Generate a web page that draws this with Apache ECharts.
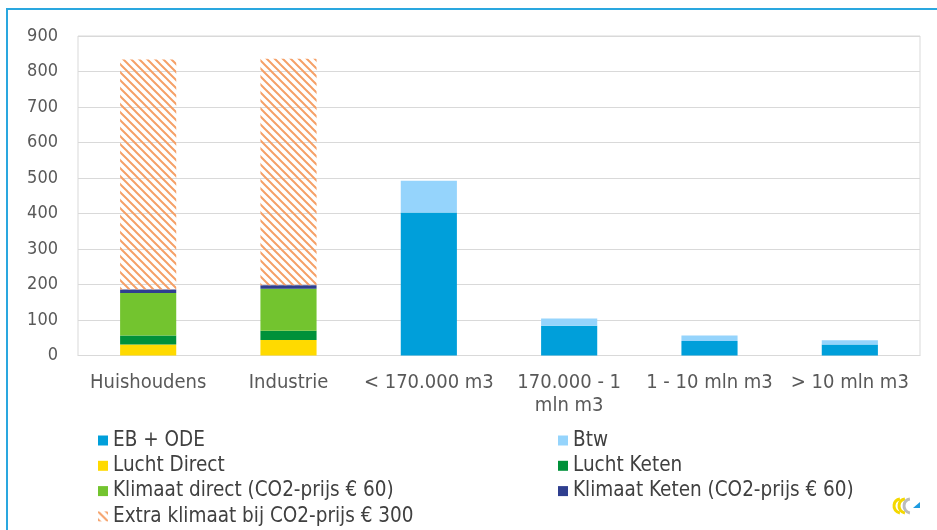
<!DOCTYPE html>
<html>
<head>
<meta charset="utf-8">
<script src="https://cdn.jsdelivr.net/npm/echarts@6/dist/echarts.min.js"></script>
<style>html,body{margin:0;padding:0;background:#fff}#c{width:937px;height:530px}</style>
</head>
<body>
<div id="c"></div>
<script>
const categories = ['Huishoudens', 'Industrie', '< 170.000 m3', '170.000 - 1\nmln m3', '1 - 10 mln m3', '> 10 mln m3'];
const ebOde        = [0, 0, 403, 84, 41, 31];
const btw          = [0, 0, 89, 20, 15, 12];
const luchtDirect  = [31, 44, 0, 0, 0, 0];
const luchtKeten   = [25, 26, 0, 0, 0, 0];
const klimaatDirect= [120, 118, 0, 0, 0, 0];
const klimaatKeten = [10, 10, 0, 0, 0, 0];
const extraKlimaat = [648, 638, 0, 0, 0, 0];
const yTicks = [0, 100, 200, 300, 400, 500, 600, 700, 800, 900];

const legendCol1 = ['EB + ODE', 'Lucht Direct', 'Klimaat direct (CO2-prijs € 60)', 'Extra klimaat bij CO2-prijs € 300'];
const legendCol2 = ['Btw', 'Lucht Keten', 'Klimaat Keten (CO2-prijs € 60)'];

const FONT = '"DejaVu Sans Condensed", "DejaVu Sans", sans-serif';

// hatch pattern: diagonal "\" stripes
const P = 8;
const pc = document.createElement('canvas');
pc.width = P; pc.height = P;
const g = pc.getContext('2d');
g.strokeStyle = '#F5A067';
g.lineWidth = 2;
g.lineCap = 'square';
g.beginPath();
for (let k = -2; k <= 2; k++) {
  g.moveTo(k * P - P, -P); g.lineTo(k * P + 2 * P, 2 * P);
}
g.stroke();

const chart = echarts.init(document.getElementById('c'), null, {renderer: 'canvas'});

function s(name, data, color) {
  return {name, type: 'bar', stack: 'a', data, barWidth: '40%', itemStyle: {color}, emphasis: {disabled: true}};
}

const legends = [];
legendCol1.forEach((n, i) => legends.push({name: n, left: 98, top: 430 + i * 25.3}));
legendCol2.forEach((n, i) => legends.push({name: n, left: 558, top: 430 + i * 25.3}));

chart.setOption({
  animation: false,
  grid: {left: 78, right: 17, top: 36, bottom: 174.5, show: true, borderColor: '#D9D9D9', borderWidth: 1},
  xAxis: {
    type: 'category', data: categories,
    axisLine: {lineStyle: {color: '#D9D9D9'}}, axisTick: {show: false},
    axisLabel: {color: '#595959', fontSize: 20, fontFamily: FONT, margin: 16, lineHeight: 23, interval: 0}
  },
  yAxis: {
    type: 'value', min: yTicks[0], max: yTicks[yTicks.length - 1], interval: 100,
    axisLine: {show: false}, axisTick: {show: false},
    splitLine: {lineStyle: {color: '#D9D9D9'}},
    axisLabel: {color: '#595959', fontSize: 18, fontFamily: FONT, margin: 20}
  },
  legend: legends.map(l => ({
    left: l.left, top: l.top, padding: 0, orient: 'vertical',
    itemWidth: 10, itemHeight: 10, icon: 'rect',
    textStyle: {color: '#404040', fontSize: 20.5, fontFamily: FONT, lineHeight: 20},
    data: [l.name], selectedMode: false
  })),
  graphic: [
    {type: 'rect', shape: {x: 7, y: 9, width: 1000, height: 1000}, style: {fill: 'none', stroke: '#2AA7DF', lineWidth: 2}, silent: true},
    {type: 'arc', shape: {cx: 901, cy: 506, r: 7, startAngle: Math.PI*0.55, endAngle: Math.PI*1.45}, style: {stroke: '#F4D800', fill: 'none', lineWidth: 3}},
    {type: 'arc', shape: {cx: 906, cy: 506, r: 7, startAngle: Math.PI*0.55, endAngle: Math.PI*1.45}, style: {stroke: '#F4D800', fill: 'none', lineWidth: 3}},
    {type: 'arc', shape: {cx: 911, cy: 506, r: 7, startAngle: Math.PI*0.55, endAngle: Math.PI*1.45}, style: {stroke: '#BBBBBB', fill: 'none', lineWidth: 3}},
    {type: 'polygon', shape: {points: [[913, 508], [920, 502], [920, 508]]}, style: {fill: '#1E9BE0'}}
  ],
  series: [
    s('EB + ODE', ebOde, '#009FDA'),
    s('Btw', btw, '#95D4FC'),
    s('Lucht Direct', luchtDirect, '#FFDA00'),
    s('Lucht Keten', luchtKeten, '#00913A'),
    s('Klimaat direct (CO2-prijs € 60)', klimaatDirect, '#73C42F'),
    s('Klimaat Keten (CO2-prijs € 60)', klimaatKeten, '#2F3F8F'),
    s('Extra klimaat bij CO2-prijs € 300', extraKlimaat, {image: pc, repeat: 'repeat'})
  ]
});
</script>
</body>
</html>
